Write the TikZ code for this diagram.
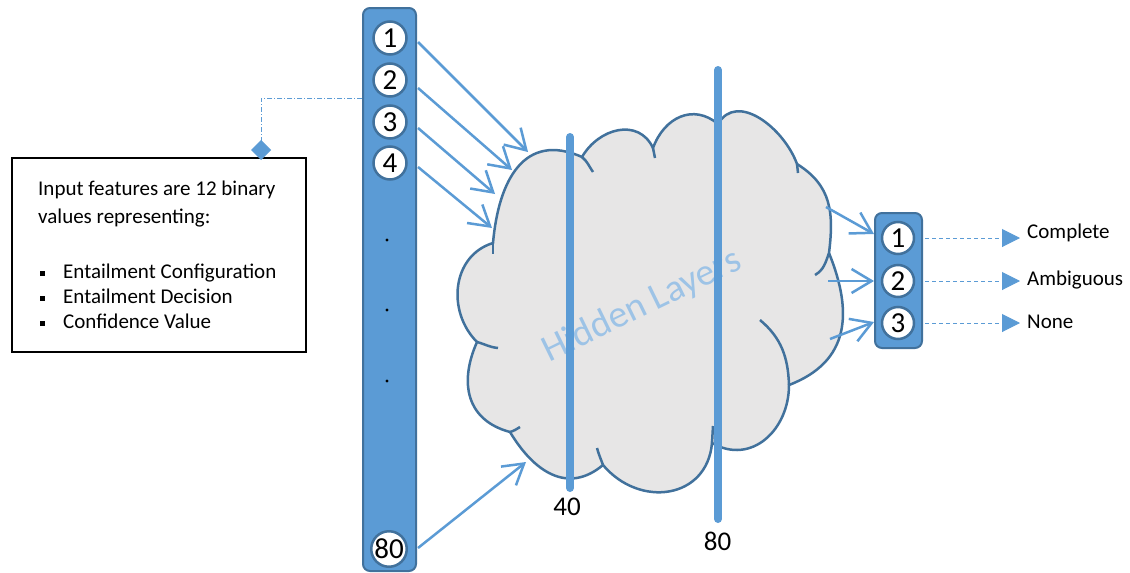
\documentclass[tikz,border=0pt]{standalone}
\usepackage{fontspec}
\setmainfont{Carlito}
\usetikzlibrary{arrows.meta,calc}
\definecolor{barblue}{RGB}{91,155,213}
\definecolor{edgeblue}{RGB}{65,113,156}
\definecolor{cloudgray}{RGB}{231,230,230}
\definecolor{ghostblue}{RGB}{157,195,230}

\begin{document}
\begin{tikzpicture}[x=1pt,y=1pt,
  barnode/.style={draw=edgeblue,line width=2pt,fill=barblue,rounded corners=7pt,inner sep=0pt},
  unit/.style={circle,draw=edgeblue,line width=2.5pt,fill=white,minimum size=33pt,inner sep=0pt,
    font=\fontsize{29}{29}\selectfont},
  feed/.style={draw=barblue,line width=2.5pt,-{Straight Barb[length=20pt,width=24pt]}},
  cloudline/.style={draw=edgeblue,line width=2.5pt},
  hbar/.style={draw=barblue,line width=8pt,line cap=round},
  outarrow/.style={draw=barblue,line width=1pt,dash pattern=on 4pt off 3pt,-{Triangle[length=18pt,width=18pt]}},
  note/.style={draw=barblue,line width=1pt,dash pattern=on 5pt off 2pt on 1pt off 2pt,-{Diamond[length=20pt,width=20pt]}},
  txt/.style={anchor=base west,inner sep=0pt,font=\fontsize{21}{21}\selectfont},
  numlabel/.style={inner sep=0pt,font=\fontsize{27}{27}\selectfont}]
\useasboundingbox (0,0) rectangle (1130,-573);

% ---- hidden-layer cloud ----
\path[fill=cloudgray,cloudline] (493,-243)
  to[out=85,in=156,looseness=1.3] (582,-157)
  to[out=60,in=115,looseness=1.2] (653,-148)
  to[out=70,in=140,looseness=1.2] (718,-124)
  to[out=60,in=110,looseness=1.1] (797,-164)
  to[out=-32,in=83,looseness=1.1] (829,-253)
  to[out=-68,in=21,looseness=1.2] (789,-385)
  to[out=-90,in=-30,looseness=1.2] (712,-443)
  to[out=-95,in=-50,looseness=1.3] (603,-465)
  to[out=-140,in=-59,looseness=1.2] (510,-432)
  to[out=165,in=-114,looseness=1.2] (477,-342)
  to[out=135,in=-163,looseness=1.1] cycle;
% inner ends of the puffs
\draw[cloudline] (582,-157) to[out=-40,in=125] (593,-172);
\draw[cloudline] (653,-148) -- (655,-158);
\draw[cloudline] (797,-164) -- (798,-173);
\draw[cloudline] (829,-253) to[out=-110,in=30] (815,-275);
\draw[cloudline] (760,-320) to[out=-40,in=92] (789,-385);
\draw[cloudline] (712,-443) -- (713,-426);
\draw[cloudline] (603,-465) to[out=110,in=-75] (597,-448);
\draw[cloudline] (510,-432) to[out=15,in=-150] (520,-427);
\draw[cloudline] (477,-342) to[out=-15,in=175] (498,-348);
\draw[cloudline] (493,-243) -- (493,-254);

\node[rotate=26,text=ghostblue,inner sep=0pt,font=\fontsize{38}{38}\selectfont] (hl) at (642,-306) {Hidden Layers};

% layer bars
\draw[hbar] (570,-137) -- (570,-488);
\draw[hbar] (718,-70) -- (718,-519);
\node[numlabel] (l40) at (567,-506.5) {40};
\node[numlabel] (l80) at (717.5,-541.5) {80};

% ---- input layer ----
\node[barnode,minimum width=53pt,minimum height=563pt] (inbar) at (389.5,-289.5) {};
\node[unit] (c1) at (390,-38) {1};
\node[unit] (c2) at (390,-80) {2};
\node[unit] (c3) at (390,-122) {3};
\node[unit] (c4) at (390,-163) {4};
\node[unit] (c80) at (389,-549) {80};
\fill (387,-240) circle (1.6pt);
\fill (387,-310) circle (1.6pt);
\fill (387,-381) circle (1.6pt);

\coordinate (t1) at (528,-152);
\coordinate (t2) at (512,-170);
\coordinate (t3) at (495,-194);
\coordinate (t4) at (492,-228);
\coordinate (t80) at (526,-462);
\draw[feed] ($(inbar.east |- c1)+(1,-4)$) -- (t1);
\draw[feed] ($(inbar.east |- c2)+(1,-8)$) -- (t2);
\draw[feed] ($(inbar.east |- c3)+(1,-6)$) -- (t3);
\draw[feed] ($(inbar.east |- c4)+(1,-4)$) -- (t4);
\draw[feed] ($(inbar.east |- c80)+(1,1)$) -- (t80);

% ---- description box ----
\node[draw=black,line width=2pt,minimum width=294pt,minimum height=194pt,inner sep=0pt] (box) at (159,-255) {};
\node[txt] (d1) at (38,-195) {Input features are 12 binary};
\node[txt] (d2) at (38,-223) {values representing:};
\node[txt] (d3) at (63,-278) {Entailment Configuration};
\node[txt] (d4) at (63,-303) {Entailment Decision};
\node[txt] (d5) at (63,-328) {Confidence Value};
\fill (40,-270.5) rectangle (45,-275.5);
\fill (40,-295.5) rectangle (45,-300.5);
\fill (40,-320.5) rectangle (45,-325.5);
\coordinate (pin) at (261,-160);
\draw[note] (inbar.west |- 0,-98) -| (pin);

% ---- output layer ----
\node[barnode,minimum width=47pt,minimum height=135pt] (outbar) at (898.5,-280.5) {};
\node[unit,minimum size=32pt] (o1) at (898,-238) {1};
\node[unit,minimum size=32pt] (o2) at (898,-281) {2};
\node[unit,minimum size=32pt] (o3) at (898,-323) {3};

\coordinate (s1) at (826,-207);
\coordinate (s2) at (828,-281);
\coordinate (s3) at (830,-339);
\draw[feed] (s1) -- ($(outbar.west |- o1)+(0,4)$);
\draw[feed] (s2) -- (outbar.west |- o2);
\draw[feed] (s3) -- ($(outbar.west |- o3)+(0,1)$);

\node[txt] (r1) at (1027,-238) {Complete};
\node[txt] (r2) at (1027,-285) {Ambiguous};
\node[txt] (r3) at (1027,-328) {None};
\draw[outarrow] ($(outbar.east |- o1)+(2,0)$) -- ($(r1.west |- o1)+(-7,0)$);
\draw[outarrow] ($(outbar.east |- o2)+(2,0)$) -- ($(r2.west |- o2)+(-7,0)$);
\draw[outarrow] ($(outbar.east |- o3)+(2,0)$) -- ($(r3.west |- o3)+(-7,0)$);
\end{tikzpicture}
\end{document}
